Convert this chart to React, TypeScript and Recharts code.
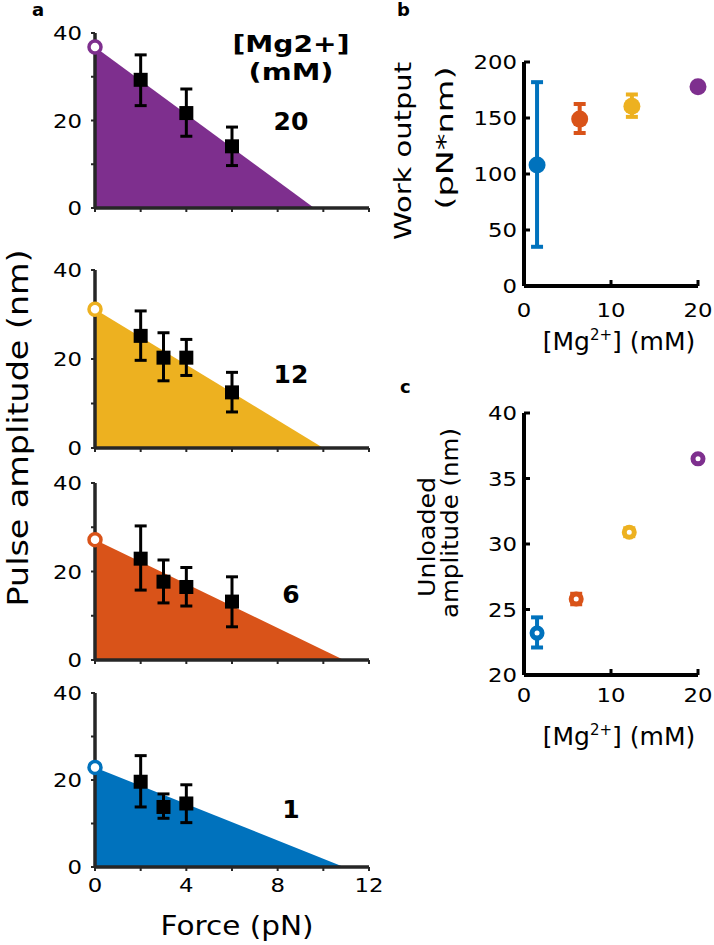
import React from 'react';
import { ComposedChart, Area, Scatter, XAxis, YAxis, ErrorBar } from 'recharts';

const FONT = 'DejaVu Sans';
const AXIS_GRAY = '#262626';

// [Mg2+] conditions, top to bottom in panel a
const MG_LABELS = ['20', '12', '6', '1'];
const MG_COLORS = ['#7E2F8E', '#EDB120', '#D95319', '#0072BD'];
const UNLOADED_AMP = [36.8, 31.2, 27.2, 22.9];
const STALL_FORCE = [9.6, 10.0, 10.9, 10.9];

// pulse amplitude vs force, per condition
const FORCE_20 = [2, 4, 6];
const AMP_20 = [29.3, 21.7, 14.1];
const HI_20 = [35.0, 27.2, 18.5];
const LO_20 = [23.4, 16.4, 9.7];

const FORCE_12 = [2, 3, 4, 6];
const AMP_12 = [25.2, 20.3, 20.3, 12.5];
const HI_12 = [30.8, 25.9, 24.4, 17.0];
const LO_12 = [19.7, 15.1, 16.3, 8.1];

const FORCE_6 = [2, 3, 4, 6];
const AMP_6 = [22.9, 17.7, 16.5, 13.2];
const HI_6 = [30.3, 22.6, 20.9, 18.8];
const LO_6 = [15.8, 12.9, 12.2, 7.5];

const FORCE_1 = [2, 3, 4];
const AMP_1 = [19.6, 13.8, 14.6];
const HI_1 = [25.6, 16.8, 18.9];
const LO_1 = [13.8, 11.2, 10.2];

const FORCE_TICKS = [0, 2, 4, 6, 8, 10, 12];
const AMP_TICKS = [0, 10, 20, 30, 40];

// panel b: work output
const MG_B = [1.5, 6.4, 12.4, 20];
const WORK = [108, 149, 160.5, 178];
const WORK_HI = [182, 162.5, 171, 179];
const WORK_LO = [35, 136.6, 151, 177];
const WORK_TICKS = [0, 50, 100, 150, 200];

// panel c: unloaded amplitude
const MG_C = [1.5, 6.0, 12.1, 20];
const UNL = [23.2, 25.8, 30.9, 36.5];
const UNL_HI = [24.4, 26.2, 31.2, 36.6];
const UNL_LO = [22.1, 25.4, 30.6, 36.4];
const UNL_TICKS = [20, 25, 30, 35, 40];
const MG_TICKS = [0, 10, 20];

const PANEL_A = [
  { force: FORCE_20, amp: AMP_20, hi: HI_20, lo: LO_20 },
  { force: FORCE_12, amp: AMP_12, hi: HI_12, lo: LO_12 },
  { force: FORCE_6, amp: AMP_6, hi: HI_6, lo: LO_6 },
  { force: FORCE_1, amp: AMP_1, hi: HI_1, lo: LO_1 },
];

// plot-area top / height of each subplot in panel a
const A_TOPS = [33, 270, 483, 693];
const A_HEIGHTS = [175, 178, 177, 174];
const PAD_TOP = 20;

// tick label drawn a bit wide, like the original figure's font
const makeTick = (axis: 'x' | 'y', fmt?: (v: number) => string) => (props: any) => {
  const { x, y, payload, textAnchor } = props;
  const s = fmt ? fmt(payload.value) : String(payload.value);
  if (!s) return <g />;
  return (
    <text
      x={x}
      y={y}
      textAnchor={textAnchor}
      dy={axis === 'x' ? '0.71em' : '0.355em'}
      fontSize={20}
      fontFamily={FONT}
      fill="#000"
      textLength={s.length * 14.5}
      lengthAdjust="spacingAndGlyphs"
    >
      {s}
    </text>
  );
};

const Square = (props: any) => {
  const { cx, cy } = props;
  if (cx == null || cy == null) return <g />;
  return <rect x={cx - 7} y={cy - 7} width={14} height={14} fill="#000" />;
};

const openCircle = (color: string) => (props: any) => {
  const { cx, cy } = props;
  if (cx == null || cy == null) return <g />;
  return <circle cx={cx} cy={cy} r={6} fill="#fff" stroke={color} strokeWidth={3.5} />;
};

const dot = (color: string) => (props: any) => {
  const { cx, cy } = props;
  if (cx == null || cy == null) return <g />;
  return <circle cx={cx} cy={cy} r={8.5} fill={color} />;
};

const ring = (color: string) => (props: any) => {
  const { cx, cy } = props;
  if (cx == null || cy == null) return <g />;
  return <circle cx={cx} cy={cy} r={5} fill="#fff" stroke={color} strokeWidth={5} />;
};

const ForcePanel = ({ idx }: { idx: number }) => {
  const s = PANEL_A[idx];
  const color = MG_COLORS[idx];
  const top = A_TOPS[idx];
  const h = A_HEIGHTS[idx];
  const isBottom = idx === PANEL_A.length - 1;
  const tri = [
    { f: 0, y: UNLOADED_AMP[idx] },
    { f: STALL_FORCE[idx], y: 0 },
  ];
  const pts = s.force.map((f, i) => ({
    f,
    y: s.amp[i],
    err: [s.amp[i] - s.lo[i], s.hi[i] - s.amp[i]],
  }));
  return (
    <div style={{ position: 'absolute', left: 0, top: top - PAD_TOP }}>
      <ComposedChart
        width={400}
        height={h + PAD_TOP + 30}
        data={tri}
        margin={{ top: PAD_TOP, right: 31, bottom: 0, left: 0 }}
      >
        <XAxis
          type="number"
          dataKey="f"
          domain={[0, 12]}
          ticks={FORCE_TICKS}
          height={30}
          tickSize={4}
          tickMargin={7}
          tick={makeTick('x', (v) => (isBottom && v % 4 === 0 ? String(v) : ''))}
          axisLine={{ stroke: AXIS_GRAY, strokeWidth: 3.5 }}
          tickLine={{ stroke: AXIS_GRAY, strokeWidth: 2 }}
        />
        <YAxis
          type="number"
          dataKey="y"
          domain={[0, 40]}
          ticks={AMP_TICKS}
          width={95}
          tickSize={4}
          tickMargin={9}
          tick={makeTick('y', (v) => (v % 20 === 0 ? String(v) : ''))}
          axisLine={{ stroke: AXIS_GRAY, strokeWidth: 3.5 }}
          tickLine={{ stroke: AXIS_GRAY, strokeWidth: 2 }}
        />
        <Area
          type="linear"
          dataKey="y"
          fill={color}
          fillOpacity={1}
          stroke="none"
          isAnimationActive={false}
        />
        <Scatter data={pts} dataKey="y" shape={Square} isAnimationActive={false}>
          <ErrorBar dataKey="err" direction="y" width={6} stroke="#000" strokeWidth={3} />
        </Scatter>
        <Scatter
          data={[tri[0]]}
          dataKey="y"
          shape={openCircle(color)}
          isAnimationActive={false}
        />
      </ComposedChart>
    </div>
  );
};

const MgPanel = ({
  top,
  plotH,
  xs,
  ys,
  his,
  los,
  yDomain,
  yTicks,
  xTickMargin,
  shapeFor,
}: any) => {
  const order = [3, 2, 1, 0]; // blue, orange, yellow, purple
  return (
    <div style={{ position: 'absolute', left: 464, top: top - PAD_TOP }}>
      <ComposedChart
        width={250}
        height={plotH + PAD_TOP + 40}
        margin={{ top: PAD_TOP, right: 16, bottom: 0, left: 0 }}
      >
        <XAxis
          type="number"
          dataKey="x"
          domain={[0, 20]}
          ticks={MG_TICKS}
          height={40}
          tickSize={-6}
          tickMargin={xTickMargin}
          tick={makeTick('x')}
          axisLine={{ stroke: '#000', strokeWidth: 4 }}
          tickLine={{ stroke: '#000', strokeWidth: 3 }}
        />
        <YAxis
          type="number"
          dataKey="y"
          domain={yDomain}
          ticks={yTicks}
          width={60}
          tickSize={-6}
          tickMargin={13}
          tick={makeTick('y')}
          axisLine={{ stroke: '#000', strokeWidth: 4 }}
          tickLine={{ stroke: '#000', strokeWidth: 3 }}
        />
        {xs.map((x: number, i: number) => {
          const color = MG_COLORS[order[i]];
          const d = [{ x, y: ys[i], err: [ys[i] - los[i], his[i] - ys[i]] }];
          return (
            <Scatter
              key={i}
              data={d}
              dataKey="y"
              shape={shapeFor(color)}
              isAnimationActive={false}
            >
              <ErrorBar dataKey="err" direction="y" width={6} stroke={color} strokeWidth={4} />
            </Scatter>
          );
        })}
      </ComposedChart>
    </div>
  );
};

const VText = ({ x, y, size, len, children, weight }: any) => (
  <text
    x={x}
    y={y}
    transform={`rotate(-90 ${x} ${y})`}
    textAnchor="middle"
    fontSize={size}
    fontWeight={weight}
    textLength={len}
    lengthAdjust="spacingAndGlyphs"
  >
    {children}
  </text>
);

const MgLabel = ({ x, y }: { x: number; y: number }) => (
  <text x={x} y={y} fontSize={25} textAnchor="middle">
    [Mg<tspan dy={-10} fontSize={15}>2+</tspan>
    <tspan dy={10}>] (mM)</tspan>
  </text>
);

export default function App() {
  return (
    <div
      style={{
        position: 'absolute',
        left: 0,
        top: 0,
        width: 714,
        height: 945,
        background: '#fff',
        overflow: 'hidden',
      }}
    >
      {PANEL_A.map((_, i) => (
        <ForcePanel key={i} idx={i} />
      ))}
      <MgPanel
        top={62}
        plotH={224}
        xs={MG_B}
        ys={WORK}
        his={WORK_HI}
        los={WORK_LO}
        yDomain={[0, 200]}
        yTicks={WORK_TICKS}
        xTickMargin={23}
        shapeFor={dot}
      />
      <MgPanel
        top={413}
        plotH={262}
        xs={MG_C}
        ys={UNL}
        his={UNL_HI}
        los={UNL_LO}
        yDomain={[20, 40]}
        yTicks={UNL_TICKS}
        xTickMargin={19}
        shapeFor={ring}
      />
      <svg
        width={714}
        height={945}
        style={{ position: 'absolute', left: 0, top: 0, pointerEvents: 'none' }}
        fontFamily={FONT}
        fill="#000"
      >
        <text x={32} y={16} fontSize={18} fontWeight="bold">a</text>
        <text x={397} y={16} fontSize={18} fontWeight="bold">b</text>
        <text x={400} y={393} fontSize={18} fontWeight="bold">c</text>

        <text x={291} y={52} fontSize={23} fontWeight="bold" textAnchor="middle" textLength={117} lengthAdjust="spacingAndGlyphs">[Mg2+]</text>
        <text x={291} y={80} fontSize={23} fontWeight="bold" textAnchor="middle" textLength={85} lengthAdjust="spacingAndGlyphs">(mM)</text>
        {MG_LABELS.map((lab, i) => (
          <text
            key={lab}
            x={291}
            y={[130, 383, 603, 818][i]}
            fontSize={25}
            fontWeight="bold"
            textAnchor="middle"
          >
            {lab}
          </text>
        ))}

        <VText x={28} y={428} size={28} len={357}>Pulse amplitude (nm)</VText>
        <text x={237} y={935} fontSize={27} textAnchor="middle" textLength={153} lengthAdjust="spacingAndGlyphs">Force (pN)</text>

        <VText x={411} y={151} size={23} len={178}>Work output</VText>
        <VText x={453} y={138} size={23} len={143}>(pN*nm)</VText>
        <MgLabel x={619} y={350} />

        <VText x={435} y={537} size={23} len={120}>Unloaded</VText>
        <VText x={458} y={523} size={23} len={190}>amplitude (nm)</VText>
        <MgLabel x={619} y={745} />
      </svg>
    </div>
  );
}
